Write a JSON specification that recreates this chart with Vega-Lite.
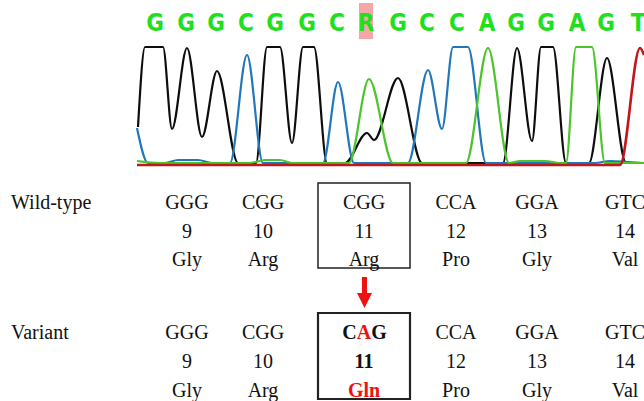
{
  "$schema": "https://vega.github.io/schema/vega-lite/v6.json",
  "width": 644,
  "height": 401,
  "autosize": {"type": "none"},
  "padding": 0,
  "background": "white",
  "config": {"view": {"stroke": null}},
  "datasets": {
    "bases": [
      {"base": "G", "x": 155}, {"base": "G", "x": 186}, {"base": "G", "x": 216},
      {"base": "C", "x": 246}, {"base": "G", "x": 275}, {"base": "G", "x": 307},
      {"base": "C", "x": 337}, {"base": "R", "x": 366}, {"base": "G", "x": 398},
      {"base": "C", "x": 427}, {"base": "C", "x": 457}, {"base": "A", "x": 487},
      {"base": "G", "x": 516}, {"base": "G", "x": 546}, {"base": "A", "x": 577},
      {"base": "G", "x": 606}, {"base": "T", "x": 638}
    ],
    "traces": [
      {"dye": "G", "x": 138, "y": 127}, {"dye": "G", "x": 145, "y": 47}, {"dye": "G", "x": 163, "y": 47},
      {"dye": "G", "x": 172, "y": 129}, {"dye": "G", "x": 187, "y": 48}, {"dye": "G", "x": 202, "y": 137},
      {"dye": "G", "x": 217, "y": 71}, {"dye": "G", "x": 238, "y": 163}, {"dye": "G", "x": 256, "y": 163},
      {"dye": "G", "x": 267, "y": 47}, {"dye": "G", "x": 280, "y": 47}, {"dye": "G", "x": 292, "y": 143},
      {"dye": "G", "x": 303, "y": 47}, {"dye": "G", "x": 314, "y": 47}, {"dye": "G", "x": 327, "y": 163},
      {"dye": "G", "x": 345, "y": 163}, {"dye": "G", "x": 367, "y": 133}, {"dye": "G", "x": 374, "y": 140},
      {"dye": "G", "x": 398, "y": 78}, {"dye": "G", "x": 422, "y": 163}, {"dye": "G", "x": 503, "y": 163},
      {"dye": "G", "x": 517, "y": 48}, {"dye": "G", "x": 532, "y": 141}, {"dye": "G", "x": 541, "y": 47},
      {"dye": "G", "x": 553, "y": 47}, {"dye": "G", "x": 566, "y": 163}, {"dye": "G", "x": 589, "y": 163},
      {"dye": "G", "x": 607, "y": 58}, {"dye": "G", "x": 626, "y": 163}, {"dye": "G", "x": 644, "y": 163},

      {"dye": "C", "x": 137, "y": 128}, {"dye": "C", "x": 148, "y": 163}, {"dye": "C", "x": 165, "y": 163},
      {"dye": "C", "x": 178, "y": 160}, {"dye": "C", "x": 198, "y": 160}, {"dye": "C", "x": 212, "y": 163},
      {"dye": "C", "x": 230, "y": 163}, {"dye": "C", "x": 247, "y": 55}, {"dye": "C", "x": 263, "y": 163},
      {"dye": "C", "x": 323, "y": 163}, {"dye": "C", "x": 338, "y": 82}, {"dye": "C", "x": 354, "y": 163},
      {"dye": "C", "x": 408, "y": 163}, {"dye": "C", "x": 428, "y": 70}, {"dye": "C", "x": 442, "y": 129},
      {"dye": "C", "x": 453, "y": 47}, {"dye": "C", "x": 468, "y": 47}, {"dye": "C", "x": 486, "y": 163},
      {"dye": "C", "x": 595, "y": 163}, {"dye": "C", "x": 610, "y": 161}, {"dye": "C", "x": 628, "y": 162},
      {"dye": "C", "x": 644, "y": 163},

      {"dye": "A", "x": 137, "y": 161}, {"dye": "A", "x": 160, "y": 163}, {"dye": "A", "x": 250, "y": 163},
      {"dye": "A", "x": 265, "y": 160}, {"dye": "A", "x": 280, "y": 160}, {"dye": "A", "x": 292, "y": 163},
      {"dye": "A", "x": 349, "y": 163}, {"dye": "A", "x": 369, "y": 79}, {"dye": "A", "x": 393, "y": 163},
      {"dye": "A", "x": 466, "y": 163}, {"dye": "A", "x": 488, "y": 48}, {"dye": "A", "x": 509, "y": 163},
      {"dye": "A", "x": 520, "y": 161}, {"dye": "A", "x": 545, "y": 161}, {"dye": "A", "x": 560, "y": 163},
      {"dye": "A", "x": 566, "y": 163}, {"dye": "A", "x": 576, "y": 47}, {"dye": "A", "x": 592, "y": 47},
      {"dye": "A", "x": 605, "y": 163}, {"dye": "A", "x": 644, "y": 163},

      {"dye": "T", "x": 137, "y": 165}, {"dye": "T", "x": 620, "y": 165}, {"dye": "T", "x": 640, "y": 48},
      {"dye": "T", "x": 644, "y": 55}
    ],
    "boxes": [
      {"allele": "Wild-type", "x": 318, "x2": 410, "y": 183, "y2": 268},
      {"allele": "Variant", "x": 318, "x2": 410, "y": 313, "y2": 399}
    ],
    "labels": [
      {"text": "Wild-type", "x": 11, "y": 209},
      {"text": "Variant", "x": 11, "y": 339}
    ],
    "cells": [
      {"text": "GGG", "x": 187, "y": 209}, {"text": "CGG", "x": 263, "y": 209}, {"text": "CGG", "x": 364, "y": 209},
      {"text": "CCA", "x": 456, "y": 209}, {"text": "GGA", "x": 537, "y": 209}, {"text": "GTC", "x": 625, "y": 209},
      {"text": "9", "x": 187, "y": 238}, {"text": "10", "x": 263, "y": 238}, {"text": "11", "x": 364, "y": 238},
      {"text": "12", "x": 456, "y": 238}, {"text": "13", "x": 537, "y": 238}, {"text": "14", "x": 625, "y": 238},
      {"text": "Gly", "x": 187, "y": 266}, {"text": "Arg", "x": 263, "y": 266}, {"text": "Arg", "x": 364, "y": 266},
      {"text": "Pro", "x": 456, "y": 266}, {"text": "Gly", "x": 537, "y": 266}, {"text": "Val", "x": 625, "y": 266},
      {"text": "GGG", "x": 187, "y": 339}, {"text": "CGG", "x": 263, "y": 339},
      {"text": "CCA", "x": 456, "y": 339}, {"text": "GGA", "x": 537, "y": 339}, {"text": "GTC", "x": 625, "y": 339},
      {"text": "9", "x": 187, "y": 368}, {"text": "10", "x": 263, "y": 368},
      {"text": "12", "x": 456, "y": 368}, {"text": "13", "x": 537, "y": 368}, {"text": "14", "x": 625, "y": 368},
      {"text": "Gly", "x": 187, "y": 397}, {"text": "Arg", "x": 263, "y": 397},
      {"text": "Pro", "x": 456, "y": 397}, {"text": "Gly", "x": 537, "y": 397}, {"text": "Val", "x": 625, "y": 397}
    ],
    "changed": [
      {"text": "C", "x": 349.5, "y": 339, "mutant": "no"},
      {"text": "A", "x": 364, "y": 339, "mutant": "yes"},
      {"text": "G", "x": 379, "y": 339, "mutant": "no"},
      {"text": "11", "x": 364, "y": 368, "mutant": "no"},
      {"text": "Gln", "x": 364, "y": 397, "mutant": "yes"}
    ],
    "arrow": [
      {"x": 362, "x2": 367, "y": 277, "y2": 294, "hx": 364.5, "hy": 300.5}
    ]
  },
  "encoding": {
    "x": {"field": "x", "type": "quantitative", "scale": {"domain": [0, 644], "nice": false, "zero": false}, "axis": null},
    "y": {"field": "y", "type": "quantitative", "scale": {"domain": [0, 401], "reverse": true, "nice": false, "zero": false}, "axis": null}
  },
  "layer": [
    {
      "data": {"name": "bases"},
      "transform": [{"filter": "datum.base === 'R'"}],
      "mark": {"type": "rect", "width": 14, "height": 36, "fill": "#f5a6a6"},
      "encoding": {"y": {"value": 21}}
    },
    {
      "data": {"name": "bases"},
      "mark": {"type": "text", "font": "Liberation Sans Narrow, DejaVu Sans Condensed, sans-serif", "fontWeight": "bold", "fontSize": 24, "align": "center", "baseline": "alphabetic", "color": "#1fe01f"},
      "encoding": {"y": {"value": 30.5}, "text": {"field": "base"}}
    },
    {
      "data": {"name": "traces"},
      "transform": [{"filter": "datum.dye === 'G'"}],
      "mark": {"type": "line", "interpolate": "monotone", "color": "#0d0d0d", "strokeWidth": 2.2},
      "encoding": {}
    },
    {
      "data": {"name": "traces"},
      "transform": [{"filter": "datum.dye === 'C'"}],
      "mark": {"type": "line", "interpolate": "monotone", "color": "#2277bb", "strokeWidth": 2.2},
      "encoding": {}
    },
    {
      "data": {"name": "traces"},
      "transform": [{"filter": "datum.dye === 'A'"}],
      "mark": {"type": "line", "interpolate": "monotone", "color": "#4cc42c", "strokeWidth": 2.2},
      "encoding": {}
    },
    {
      "data": {"name": "traces"},
      "transform": [{"filter": "datum.dye === 'T'"}],
      "mark": {"type": "line", "interpolate": "monotone", "color": "#c0161c", "strokeWidth": 2.6},
      "encoding": {}
    },
    {
      "data": {"name": "boxes"},
      "mark": {"type": "rect", "fill": null, "fillOpacity": 0, "stroke": "#222222"},
      "encoding": {
        "x2": {"field": "x2"},
        "y2": {"field": "y2"},
        "strokeWidth": {"field": "allele", "type": "nominal", "scale": {"domain": ["Wild-type", "Variant"], "range": [1.5, 2.2]}, "legend": null}
      }
    },
    {
      "data": {"name": "arrow"},
      "mark": {"type": "rect", "fill": "#ee1111"},
      "encoding": {"x2": {"field": "x2"}, "y2": {"field": "y2"}}
    },
    {
      "data": {"name": "arrow"},
      "mark": {"type": "point", "shape": "M-1,-1L1,-1L0,1Z", "size": 225, "filled": true, "color": "#ee1111", "opacity": 1},
      "encoding": {"x": {"field": "hx", "type": "quantitative"}, "y": {"field": "hy", "type": "quantitative"}}
    },
    {
      "data": {"name": "labels"},
      "mark": {"type": "text", "font": "Liberation Serif", "fontSize": 20, "align": "left", "baseline": "alphabetic", "color": "#111111"},
      "encoding": {"text": {"field": "text"}}
    },
    {
      "data": {"name": "cells"},
      "mark": {"type": "text", "font": "Liberation Serif", "fontSize": 20, "align": "center", "baseline": "alphabetic", "color": "#111111"},
      "encoding": {"text": {"field": "text"}}
    },
    {
      "data": {"name": "changed"},
      "mark": {"type": "text", "font": "Liberation Serif", "fontSize": 20, "fontWeight": "bold", "align": "center", "baseline": "alphabetic"},
      "encoding": {
        "text": {"field": "text"},
        "color": {"field": "mutant", "type": "nominal", "scale": {"domain": ["no", "yes"], "range": ["#111111", "#ee1111"]}, "legend": null}
      }
    }
  ]
}
